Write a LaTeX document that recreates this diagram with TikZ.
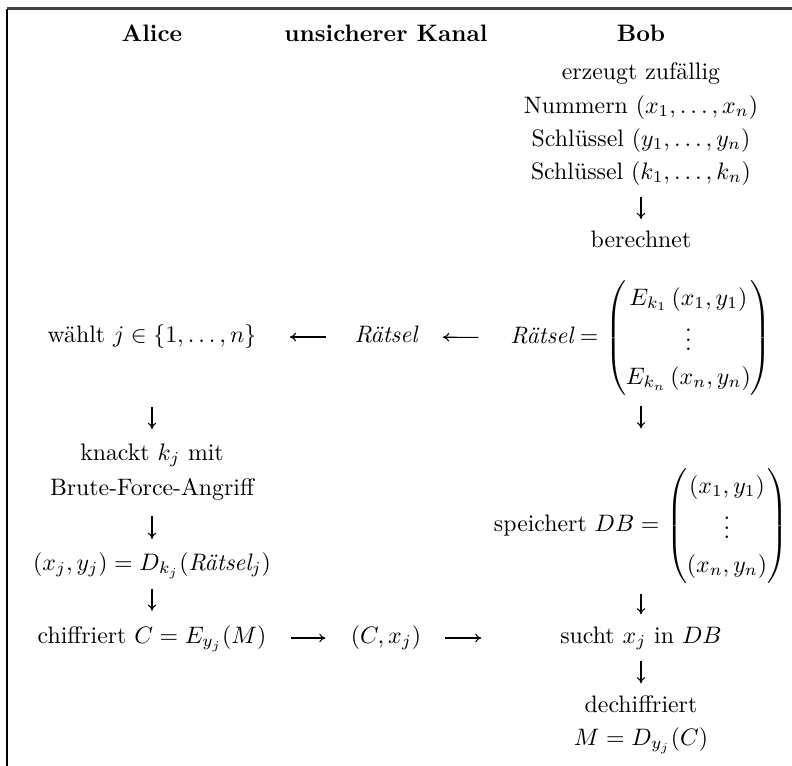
\documentclass[tikz,border=0pt]{standalone}
\usepackage{amsmath}
\usetikzlibrary{arrows.meta}

\tikzset{
  txt/.style={inner sep=0pt, text height=7pt, text depth=2.5pt},
  mtx/.style={inner sep=0pt, execute at begin node={\renewcommand{\arraystretch}{1.17}}},
  flow/.style={-{To[length=2.6pt,width=3.6pt]}, line width=0.45pt},
}

\begin{document}
\begin{tikzpicture}[x=0.42pt, y=-0.42pt]
        \useasboundingbox (0,0) rectangle (792,766);

        % Rahmen
        \draw[line width=0.8pt] (7,766) -- (7,8.5);
        \draw[line width=0.9pt, black!75] (7,8.5) -- (792,8.5);

        % Kopfzeile
        \node[txt] (hA) at (152,36) {\textbf{Alice}};
        \node[txt] (hK) at (386,36) {\textbf{unsicherer Kanal}};
        \node[txt] (hB) at (641,36) {\textbf{Bob}};

        % Bob
        \node[txt] (gen)   at (641,74)  {erzeugt zuf\"allig};
        \node[txt] (nums)  at (641,108) {Nummern $(x_1,\dots,x_n)$};
        \node[txt] (keysY) at (641,141) {Schl\"ussel $(y_1,\dots,y_n)$};
        \node[txt] (keysK) at (641,174) {Schl\"ussel $(k_1,\dots,k_n)$};
        \node[txt] (calc)  at (641,242) {berechnet};
        \node[mtx] (puz)   at (641,338) {$\textit{R\"atsel} = \begin{pmatrix}
            E_{k_1}\left(x_1,y_1\right)\\ \vdots\\ E_{k_n}\left(x_n,y_n\right)
          \end{pmatrix}$};
        \node[mtx] (store) at (641,526) {speichert $DB = \begin{pmatrix}
            \left(x_1,y_1\right)\\ \vdots\\ \left(x_n,y_n\right)
          \end{pmatrix}$};
        \node[txt] (find)  at (641,638) {sucht $x_j$ in $DB$};
        \node[txt] (dec)   at (641,707) {dechiffriert};
        \node[txt] (msg)   at (641,740) {$M = D_{y_j}(C)$};

        % Kanal
        \node[txt] (chR) at (386,337) {$\textit{R\"atsel}$};
        \node[txt] (chC) at (386,638) {$(C, x_j)$};

        % Alice
        \node[txt] (pick)  at (152,337) {w\"ahlt $j \in \{1,\dots,n\}$};
        \node[txt] (crack) at (152,455) {knackt $k_j$ mit};
        \node[txt] (brute) at (152,490) {Brute-Force-Angriff};
        \node[txt] (solve) at (152,565) {$(x_j,y_j) = D_{k_j}(\textit{R\"atsel}_j)$};
        \node[txt] (enc)   at (152,638) {chiffriert $C = E_{y_j}(M)$};

        % Pfeile bei Bob
        \draw[flow, shorten <=4.7pt, shorten >=4.7pt] (keysK) -- (calc);
        \draw[flow, shorten <=4.2pt, shorten >=16.8pt] (puz) -- (store);
        \draw[flow, shorten <=4.2pt, shorten >=5pt] (store) -- (find);
        \draw[flow, shorten <=4.7pt, shorten >=5pt] (find) -- (dec);

        % Pfeile bei Alice
        \draw[flow, shorten <=24.5pt, shorten >=6pt] (pick) -- (crack);
        \draw[flow, shorten <=6pt, shorten >=6pt] (brute) -- (solve);
        \draw[flow, shorten <=5pt, shorten >=6.5pt] (solve) -- (enc);

        % Nachrichten ueber den Kanal
        \draw[flow, shorten <=13.2pt, shorten >=10.5pt] (puz) -- (chR);
        \draw[flow, shorten <=11.6pt, shorten >=13.9pt] (chR) -- (pick);
        \draw[flow, shorten <=10pt, shorten >=10.5pt] (enc) -- (chC);
        \draw[flow, shorten <=9.7pt, shorten >=33pt] (chC) -- (find);
\end{tikzpicture}
\end{document}
